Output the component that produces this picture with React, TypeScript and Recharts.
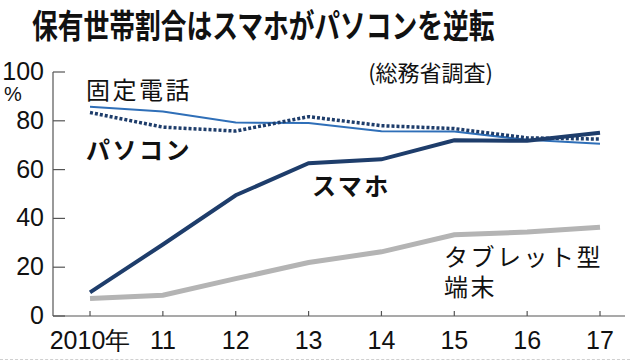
import React from "react";
import { LineChart, Line, XAxis, YAxis } from "recharts";

const years = [2010, 2011, 2012, 2013, 2014, 2015, 2016, 2017];
const yearLabels = ["2010年", "11", "12", "13", "14", "15", "16", "17"];
const landline = [85.8, 83.8, 79.3, 79.1, 75.7, 75.6, 72.2, 70.6];
const pc = [83.4, 77.4, 75.8, 81.7, 78.0, 76.8, 73.0, 72.5];
const smartphone = [9.7, 29.3, 49.5, 62.6, 64.2, 72.0, 71.8, 75.1];
const tablet = [7.2, 8.5, 15.3, 21.9, 26.3, 33.3, 34.4, 36.4];
const yTicks = [0, 20, 40, 60, 80, 100];

const data = years.map((y, i) => ({
  year: y,
  landline: landline[i],
  pc: pc[i],
  smartphone: smartphone[i],
  tablet: tablet[i],
}));

const NUM_FONT = "'Liberation Sans Narrow', 'Liberation Sans', Arial, sans-serif";
const JP_FONT = "'Noto Sans CJK JP', 'Noto Sans', sans-serif";

const YTick = (props: any) => {
  const { x, y, payload } = props;
  return (
    <g>
      <line x1={x} x2={x + 12} y1={y} y2={y} stroke="#555" strokeWidth={1.2} />
      <text x={x - 9} y={y + 8} textAnchor="end" fontSize={25} fontFamily={NUM_FONT} fill="#111">
        {payload.value}
      </text>
    </g>
  );
};

const XTick = (props: any) => {
  const { x, y, payload } = props;
  const idx = years.indexOf(payload.value);
  return (
    <g>
      <line x1={x} x2={x} y1={y - 5} y2={y} stroke="#555" strokeWidth={1.2} />
      <text x={x} y={y + 33} textAnchor="middle" fontSize={25} fontFamily={NUM_FONT} fill="#111">
        {yearLabels[idx]}
      </text>
    </g>
  );
};

const label = (
  left: number,
  top: number,
  content: React.ReactNode,
  bold: boolean,
  extra: React.CSSProperties = {}
) => (
  <div
    style={{
      position: "absolute",
      left,
      top,
      fontFamily: JP_FONT,
      fontSize: 24,
      lineHeight: 1,
      letterSpacing: 2.5,
      fontWeight: bold ? 700 : 400,
      color: "#111",
      whiteSpace: "nowrap",
      ...extra,
    }}
  >
    {content}
  </div>
);

export default function App() {
  return (
    <div
      style={{
        position: "absolute",
        left: 0,
        top: 0,
        width: 630,
        height: 361,
        background: "#fff",
        overflow: "hidden",
      }}
    >
      <LineChart
        width={630}
        height={361}
        data={data}
        margin={{ top: 72, right: 5, bottom: 15, left: 0 }}
      >
        <XAxis
          dataKey="year"
          type="number"
          domain={[2009.492, 2017.343]}
          ticks={years}
          height={30}
          tickSize={0}
          tickMargin={0}
          tickLine={false}
          axisLine={{ stroke: "#555", strokeWidth: 1.2 }}
          tick={<XTick />}
          interval={0}
        />
        <YAxis
          domain={[0, 100]}
          ticks={yTicks}
          width={53}
          tickSize={0}
          tickMargin={0}
          tickLine={false}
          axisLine={{ stroke: "#555", strokeWidth: 1.2 }}
          tick={<YTick />}
          interval={0}
        />
        <Line
          dataKey="tablet"
          type="linear"
          stroke="#b4b4b4"
          strokeWidth={5}
          dot={false}
          isAnimationActive={false}
        />
        <Line
          dataKey="landline"
          type="linear"
          stroke="#2f6fb8"
          strokeWidth={2}
          dot={false}
          isAnimationActive={false}
        />
        <Line
          dataKey="pc"
          type="linear"
          stroke="#1e3d6b"
          strokeWidth={3.5}
          strokeDasharray="3 2"
          dot={false}
          isAnimationActive={false}
        />
        <Line
          dataKey="smartphone"
          type="linear"
          stroke="#1e3d6b"
          strokeWidth={4}
          dot={false}
          isAnimationActive={false}
        />
      </LineChart>

      <div
        style={{
          position: "absolute",
          left: 32,
          top: 8,
          fontFamily: JP_FONT,
          fontSize: 33,
          lineHeight: 1,
          fontWeight: 700,
          color: "#111",
          whiteSpace: "nowrap",
          transform: "scaleX(0.78)",
          transformOrigin: "left top",
        }}
      >
        保有世帯割合はスマホがパソコンを逆転
      </div>
      <div
        style={{
          position: "absolute",
          right: 137,
          top: 60,
          fontFamily: JP_FONT,
          fontSize: 22,
          lineHeight: 1,
          color: "#111",
          whiteSpace: "nowrap",
        }}
      >
        (総務省調査)
      </div>
      <div
        style={{
          position: "absolute",
          left: 4,
          top: 84,
          fontFamily: "'Liberation Sans', Arial, sans-serif",
          fontSize: 20,
          lineHeight: 1,
          color: "#111",
        }}
      >
        %
      </div>
      {label(86, 77, "固定電話", false)}
      {label(86, 137, "パソコン", true)}
      {label(312, 173, "スマホ", true)}
      {label(
        444,
        241,
        <>
          タブレット型
          <br />
          端末
        </>,
        false,
        { lineHeight: "30px" }
      )}
      <div
        style={{
          position: "absolute",
          left: 0,
          top: 359,
          width: 630,
          borderTop: "1px dashed #d0d0d0",
        }}
      />
    </div>
  );
}
